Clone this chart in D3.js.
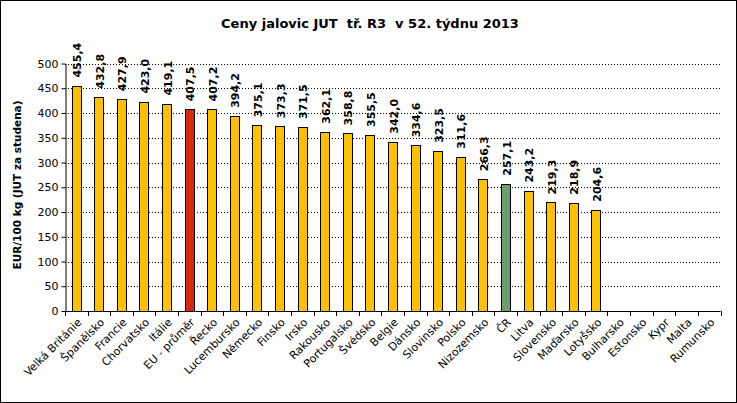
<!DOCTYPE html>
<html><head><meta charset="utf-8">
<script src="https://cdn.jsdelivr.net/npm/d3@7"></script>
<style>body{margin:0;background:#fff}svg{display:block}</style>
</head><body>
<svg id="c" width="737" height="403"></svg>
<script>
const categories = ["Velká Británie","Španělsko","Francie","Chorvatsko","Itálie","EU - průměr","Řecko","Lucembursko","Německo","Finsko","Irsko","Rakousko","Portugalsko","Švédsko","Belgie","Dánsko","Slovinsko","Polsko","Nizozemsko","ČR","Litva","Slovensko","Maďarsko","Lotyšsko","Bulharsko","Estonsko","Kypr","Malta","Rumunsko"];
const values = [455.4,432.8,427.9,423.0,419.1,407.5,407.2,394.2,375.1,373.3,371.5,362.1,358.8,355.5,342.0,334.6,323.5,311.6,266.3,257.1,243.2,219.3,218.9,204.6,null,null,null,null,null];
const yTicks = [0,50,100,150,200,250,300,350,400,450,500];
const titleText = "Ceny jalovic JUT  tř. R3  v 52. týdnu 2013";
const yLabel = "EUR/100 kg (JUT za studena)";

(function(){
const svg = d3.select("#c");
const font = "'DejaVu Sans', Verdana, sans-serif";
svg.append("rect").attr("x",0.5).attr("y",0.5).attr("width",736).attr("height",402).attr("fill","#fff").attr("stroke","#000");

const pL = 65, pR = 720.5, pT = 63.5, pB = 311;
const x = d3.scaleBand().domain(categories).range([pL, pR]).paddingInner(0.58).paddingOuter(0.29);
const y = d3.scaleLinear().domain([0,500]).range([pB, pT]);

svg.append("g").selectAll("line").data(yTicks.filter(d=>d>0)).join("line")
  .attr("x1",pL).attr("x2",pR).attr("y1",d=>Math.round(y(d))+0.5).attr("y2",d=>Math.round(y(d))+0.5)
  .attr("stroke","#000").attr("stroke-dasharray","1,2").attr("stroke-width",1);

const colorOf = c => c==="EU - průměr" ? "#D42A0A" : (c==="ČR" ? "#6E9E6E" : "#FFC000");
const data = categories.map((c,i)=>({c, v: values[i]})).filter(d=>d.v!=null);

svg.append("g").selectAll("rect").data(data).join("rect")
  .attr("x",d=>Math.round(x(d.c))+0.5).attr("width",Math.round(x.bandwidth()))
  .attr("y",d=>Math.round(y(d.v))+0.5).attr("height",d=>Math.round(pB - y(d.v)))
  .attr("fill",d=>colorOf(d.c)).attr("stroke","#000").attr("stroke-width",1);

svg.append("g").selectAll("text").data(data).join("text")
  .attr("transform",d=>`translate(${x(d.c)+x.bandwidth()/2+1},${y(d.v)-8}) rotate(-90)`)
  .attr("dy","0.35em").attr("text-anchor","start")
  .attr("font-family",font).attr("font-weight","bold").attr("font-size","11px")
  .text(d=>d3.format(".1f")(d.v).replace(".",","));

const ya = d3.axisLeft(y).tickValues(yTicks).tickSize(4).tickSizeOuter(0);
const gy = svg.append("g").attr("transform",`translate(${pL+0.5},0)`).call(ya);
gy.selectAll("text").attr("font-family",font).attr("font-size","11px").attr("fill","#000").attr("x",-7);
gy.select(".domain").attr("stroke","#000");

const step = x.step();
const xTickPos = d3.range(categories.length+1).map(i=>pL + i*step);
const gx = svg.append("g");
gx.append("line").attr("x1",pL).attr("x2",pR).attr("y1",pB+0.5).attr("y2",pB+0.5).attr("stroke","#000");
gx.selectAll("line.t").data(xTickPos).join("line").attr("class","t")
  .attr("x1",d=>Math.round(d)+0.5).attr("x2",d=>Math.round(d)+0.5).attr("y1",pB).attr("y2",pB+5).attr("stroke","#000");
gx.selectAll("text").data(categories).join("text")
  .attr("transform",c=>`translate(${x(c)+x.bandwidth()/2+6},${pB+12}) rotate(-45)`)
  .attr("text-anchor","end").attr("font-family",font).attr("font-size","11px").text(c=>c);

svg.append("text").attr("x",370).attr("y",28).attr("text-anchor","middle")
  .attr("font-family",font).attr("font-weight","bold").attr("font-size","13px").style("white-space","pre").text(titleText);

svg.append("text").attr("transform",`translate(21,185) rotate(-90)`).attr("text-anchor","middle")
  .attr("font-family",font).attr("font-weight","bold").attr("font-size","10.5px").text(yLabel);
})();
</script>
</body></html>
